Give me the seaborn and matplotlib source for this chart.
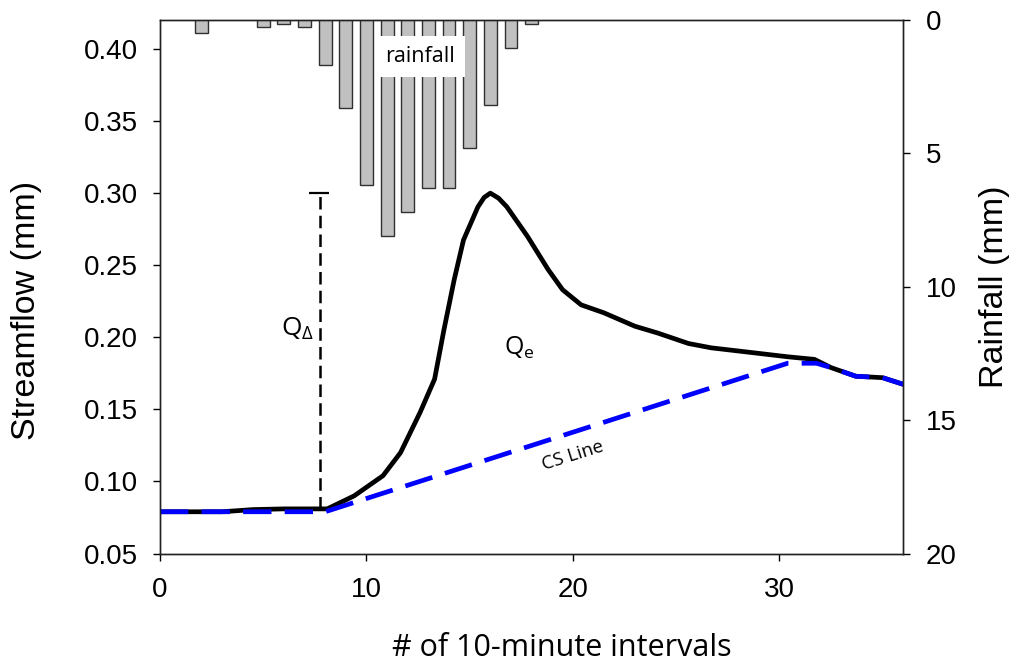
import numpy as np
import pandas as pd
import matplotlib
matplotlib.use('Agg')
import matplotlib.pyplot as plt
import seaborn as sns

# streamflow (mm)
interval = [0, 3, 4.5, 6, 8.1, 9.4, 10.8, 11.65, 12.6, 13.3, 13.75, 14.25,
            14.7, 15.4, 15.7, 16.0, 16.4, 16.8, 17.8, 18.8, 19.5, 20.4, 21.5,
            23.0, 24.1, 25.6, 26.7, 28.5, 30.4, 31.7, 32.5, 33.7, 35.0, 36.0]
streamflow = [0.079, 0.079, 0.0805, 0.081, 0.081, 0.090, 0.104, 0.120, 0.148,
              0.171, 0.205, 0.240, 0.2675, 0.2905, 0.297, 0.300, 0.2965,
              0.2905, 0.270, 0.247, 0.233, 0.2225, 0.217, 0.2077, 0.203,
              0.1957, 0.1927, 0.1897, 0.1865, 0.1847, 0.179, 0.173, 0.172,
              0.1674]

# constant slope (CS) baseflow line
cs_interval = [0, 8, 30.4, 31.8, 32.5, 33.7, 35.0, 36.0]
cs_flow = [0.079, 0.079, 0.182, 0.182, 0.179, 0.173, 0.172, 0.1674]

# rainfall (mm)
rain_interval = [2, 5, 6, 7, 8, 9, 10, 11, 12, 13, 14, 15, 16, 17, 18]
rainfall = [0.5, 0.25, 0.15, 0.25, 1.7, 3.3, 6.2, 8.1, 7.2, 6.3, 6.3, 4.8,
            3.2, 1.05, 0.15]

# Q delta marker
qd_x = 7.75
qd_low, qd_high = 0.081, 0.30

flow_df = pd.DataFrame({'t': interval, 'q': streamflow})
cs_df = pd.DataFrame({'t': cs_interval, 'q': cs_flow})
rain_df = pd.DataFrame({'t': rain_interval, 'r': rainfall})

sns.set_style('ticks')
plt.rcParams['font.family'] = ['Liberation Sans', 'DejaVu Sans']
plt.rcParams['mathtext.fontset'] = 'custom'
plt.rcParams['mathtext.rm'] = 'Open Sans'
plt.rcParams['mathtext.it'] = 'Open Sans'
for k in ('text.color', 'axes.labelcolor', 'xtick.color', 'ytick.color'):
    plt.rcParams[k] = 'black'

fig, ax = plt.subplots(figsize=(10.16, 6.71), dpi=100)
fig.subplots_adjust(left=0.1575, right=0.889, top=0.970, bottom=0.175)

sns.lineplot(data=flow_df, x='t', y='q', ax=ax, color='black', lw=3.4,
             solid_joinstyle='round', zorder=3)
sns.lineplot(data=cs_df, x='t', y='q', ax=ax, color='#0000ff', lw=3.4,
             zorder=4)
ax.lines[-1].set_dashes((6, 2.8))

# Q delta
ax.vlines(qd_x, qd_low, qd_high, colors='black', lw=1.8, linestyles=(0, (5, 2.5)))
ax.hlines(qd_high, qd_x - 0.55, qd_x + 0.45, colors='black', lw=1.6)

ann = dict(family=['Open Sans', 'DejaVu Sans'], color='black')
ax.text(5.85, 0.201, r'Q$_{\Delta}$', fontsize=19, va='baseline', **ann)
ax.text(16.65, 0.188, r'Q$_{\rm e}$', fontsize=18, va='baseline', **ann)
ax.text(20.0, 0.1177, 'CS Line', fontsize=13.5, rotation=17.5,
        ha='center', va='center', rotation_mode='anchor', **ann)

ax.set_xlim(0, 36)
ax.set_ylim(0.05, 0.42)
ax.set_xticks([0, 10, 20, 30])
ax.set_yticks(np.arange(0.05, 0.401, 0.05))
ax.yaxis.set_major_formatter(matplotlib.ticker.FormatStrFormatter('%.2f'))
ax.set_xlabel('# of 10-minute intervals', fontsize=22,
              family=['Open Sans', 'DejaVu Sans'])
ax.xaxis.set_label_coords(0.54, -0.148)
ax.set_ylabel('Streamflow (mm)', fontsize=24.5)
ax.yaxis.set_label_coords(-0.159, 0.455)
ax.tick_params(labelsize=20, length=5, width=1, direction='out', pad=11)
ax.tick_params(axis='x', pad=12)

ax2 = ax.twinx()
sns.barplot(data=rain_df, x='t', y='r', ax=ax2, native_scale=True,
            color='#c0c0c0', edgecolor='#303030', linewidth=1, width=0.62,
            errorbar=None, saturation=1)
ax2.set_ylim(20, 0)
ax2.set_xlim(0, 36)
ax2.set_yticks([0, 5, 10, 15, 20])
ax2.set_ylabel('Rainfall (mm)', fontsize=24.5)
ax2.yaxis.set_label_coords(1.102, 0.5)
ax2.set_xlabel('')
ax2.tick_params(labelsize=20, length=5, width=1, direction='out', pad=11)
ax2.text(12.6, 1.36, 'rainfall', fontsize=15.5, ha='center', va='center',
         bbox=dict(facecolor='white', edgecolor='none', pad=7), zorder=10, **ann)

for a in (ax, ax2):
    for s in a.spines.values():
        s.set_visible(True)
        s.set_linewidth(1)
        s.set_color('#222222')

fig.savefig('out.png', dpi=100)
